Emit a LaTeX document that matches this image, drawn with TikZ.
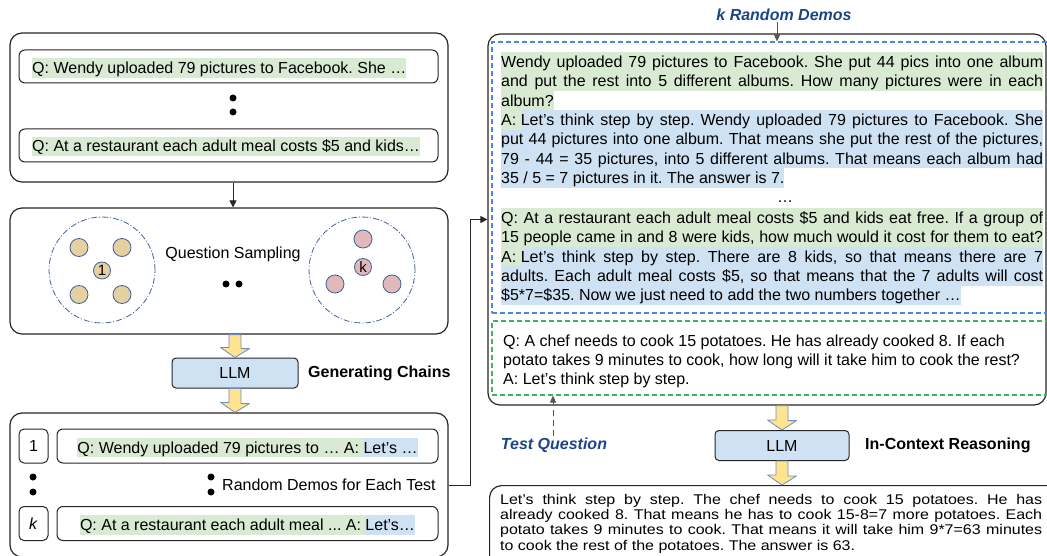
\documentclass[tikz,border=0pt]{standalone}
\usepackage{fontspec}
\setmainfont{Liberation Sans}
\usetikzlibrary{arrows.meta}
\definecolor{qgreen}{HTML}{D9EAD3}
\definecolor{ablue}{HTML}{CFE2F3}
\definecolor{ringblue}{HTML}{41619E}
\definecolor{seedtan}{HTML}{E4D19F}
\definecolor{seedpink}{HTML}{E2B9B9}
\definecolor{arrowyellow}{HTML}{FFE38F}
\definecolor{arrowedge}{HTML}{6C8EBF}
\definecolor{demoblue}{HTML}{4A86E8}
\definecolor{testgreen}{HTML}{3DB35F}
\definecolor{tagblue}{HTML}{1C4587}
\definecolor{arrowgray}{HTML}{555555}
\setlength{\fboxsep}{0pt}
\frenchspacing
\newcommand{\hl}{\rule[-4.1pt]{0pt}{19.3pt}}
\newcommand{\jl}[1]{\hbox to 542pt{\spaceskip=4.45pt plus 6pt minus 1.5pt\relax #1}}
\begin{document}
\begin{tikzpicture}[x=1pt,y=-1pt,font=\fontsize{16}{19.3}\selectfont,
	panel/.style={draw=black!85,line width=1.2pt,rounded corners=12pt},
	qbox/.style={draw=black!85,line width=1pt,rounded corners=6pt},
	tline/.style={anchor=base west,inner sep=0pt,text height=15.2pt,text depth=4.1pt},
	qline/.style={tline,fill=qgreen},
	aline/.style={tline,fill=ablue},
	pool/.style={circle,draw=ringblue,line width=0.8pt,dash pattern=on 6pt off 2pt on 1pt off 2pt,minimum size=106pt,inner sep=0pt},
	seed/.style={circle,draw=ringblue,line width=0.8pt,fill=seedtan,minimum size=18pt,inner sep=0pt},
	pick/.style={seed,fill=seedpink},
	dot/.style={circle,fill=black,inner sep=0pt,minimum size=7pt},
	llm/.style={draw=black!85,line width=1pt,fill=ablue,rounded corners=4pt,minimum width=126pt,minimum height=30pt},
	yarr/.style={draw=arrowedge,line width=0.8pt,fill=arrowyellow,line join=round},
	tag/.style={font=\fontsize{16}{19.3}\selectfont\bfseries\itshape,text=tagblue,inner sep=1pt},
	stage/.style={font=\fontsize{16}{19.3}\selectfont\bfseries,anchor=west,inner sep=0pt},
	blacka/.style={draw=black!85,line width=1pt,-{Triangle[length=7pt,width=7pt]}},
	graya/.style={draw=arrowgray,line width=1pt,-{Triangle[length=7pt,width=6pt]}}]
	\useasboundingbox (0,0) rectangle (1047,556);

	\node[panel,minimum width=438pt,minimum height=149pt] (qtop) at (229,107.5) {};
	\node[qbox,minimum width=419pt,minimum height=33pt] (q1) at (228.5,66.5) {};
	\node[qline] (q1t) at (32,73.5) {Q: Wendy uploaded 79 pictures to Facebook. She …};
	\node[dot] (qd1) at (233,98) {};
	\node[dot] (qd2) at (233,112) {};
	\node[qbox,minimum width=419pt,minimum height=33pt] (q2) at (228.5,145.5) {};
	\node[qline] (q2t) at (32,152) {Q: At a restaurant each adult meal costs \$5 and kids…};

	\node[panel,minimum width=438pt,minimum height=126pt] (sampling) at (229,271) {};
	\node[pool] (pool1) at (102,270) {};
	\node[seed] (s1) at (79,247.5) {};
	\node[seed] (s2) at (122,247.5) {};
	\node[seed] (s3) at (79,294.5) {};
	\node[seed] (s4) at (122,294.5) {};
	\node[seed,minimum size=17pt] (c1) at (102,270.5) {\fontsize{15}{15}\selectfont 1};
	\node (qs) at (233,254) {Question Sampling};
	\node[dot] (sd1) at (226,284) {};
	\node[dot] (sd2) at (239,284) {};
	\node[pool] (poolk) at (362,270) {};
	\node[pick] (p1) at (363,239) {};
	\node[pick] (p2) at (335,284) {};
	\node[pick] (p3) at (392,284) {};
	\node[pick,minimum size=17pt] (ck) at (363,267) {\fontsize{15}{15}\selectfont k};
	\draw[blacka] ([xshift=4]qtop.south) -- ([xshift=4]sampling.north);

	\node[llm] (llm1) at (235,373) {LLM};
	\node[stage] (gc) at (308,373) {Generating Chains};

	\node[panel,minimum width=438pt,minimum height=144pt] (picked) at (229,485) {};
	\node[qbox,minimum width=29pt,minimum height=34pt,rounded corners=5pt] (n1) at (33.5,446) {1};
	\node[qbox,minimum width=381pt,minimum height=34pt] (t1) at (247.5,446) {};
	\node[anchor=base,inner sep=0pt] (t1t) at (247.5,453) {\colorbox{qgreen}{\hl Q: Wendy uploaded 79 pictures to … A:\ }\colorbox{ablue}{\hl Let’s …}};
	\node[dot] (pd1) at (33,477) {};
	\node[dot] (pd2) at (33,492) {};
	\node[dot] (pd3) at (211,477) {};
	\node[dot] (pd4) at (211,492) {};
	\node[anchor=west,inner sep=0pt] (rd) at (222,485) {Random Demos for Each Test};
	\node[qbox,minimum width=29pt,minimum height=34pt,rounded corners=5pt] (nk) at (33.5,523.5) {\textit{k}};
	\node[qbox,minimum width=381pt,minimum height=34pt] (tk) at (247.5,523.5) {};
	\node[anchor=base,inner sep=0pt] (tkt) at (247.5,530.5) {\colorbox{qgreen}{\hl Q: At a restaurant each adult meal ... A:\ }\colorbox{ablue}{\hl Let’s…}};

	\coordinate (ya1) at (llm1.north |- sampling.south);
	\draw[yarr] ([xshift=-6]ya1) -- ++(12,0) -- ++(0,14) -- ++(8.5,0) -- (llm1.north) -- ++(-14.5,-10) -- ++(8.5,0) -- cycle;
	\coordinate (ya2) at (llm1.south |- picked.north);
	\draw[yarr] ([xshift=-6]llm1.south) -- ++(12,0) -- ++(0,15) -- ++(8.5,0) -- (ya2) -- ++(-14.5,-10) -- ++(8.5,0) -- cycle;

	\node[panel,minimum width=558pt,minimum height=371pt] (prompt) at (767,219.5) {};
	\draw[blacka] (picked.east) -- ++(22,0) |- (prompt.west);
	\node[draw=demoblue,line width=1.1pt,dash pattern=on 5pt off 3pt,minimum width=578pt,minimum height=271pt] (demos) at (781,177.5) {};
	\node[draw=testgreen,line width=1.1pt,dash pattern=on 5pt off 3pt,minimum width=578pt,minimum height=74pt] (test) at (781,358) {};

	\node[qline] (l1) at (501,67.5) {\jl{Wendy uploaded 79 pictures to Facebook. She put 44 pics into one album}};
	\node[qline] (l2) at (501,86.8) {\jl{and put the rest into 5 different albums. How many pictures were in each}};
	\node[qline] (l3) at (501,106.2) {album?};
	\node[aline] (l4) at (501,125.5) {\jl{\colorbox{qgreen}{\hl A:\ }Let’s think step by step. Wendy uploaded 79 pictures to Facebook. She}};
	\node[aline] (l5) at (501,144.8) {\jl{put 44 pictures into one album. That means she put the rest of the pictures,}};
	\node[aline] (l6) at (501,164.2) {\jl{79 - 44 = 35 pictures, into 5 different albums. That means each album had}};
	\node[aline] (l7) at (501,183.5) {35 / 5 = 7 pictures in it. The answer is 7.};
	\node[anchor=base,inner sep=0pt] (gap) at (785,202.8) {…};
	\node[qline] (l8) at (501,223.5) {\jl{Q: At a restaurant each adult meal costs \$5 and kids eat free. If a group of}};
	\node[qline] (l9) at (501,242.8) {\jl{15 people came in and 8 were kids, how much would it cost for them to eat?}};
	\node[aline] (l10) at (501,262.1) {\jl{\colorbox{qgreen}{\hl A:\ }Let’s think step by step. There are 8 kids, so that means there are 7}};
	\node[aline] (l11) at (501,281.5) {\jl{adults. Each adult meal costs \$5, so that means that the 7 adults will cost}};
	\node[aline] (l12) at (501,300.8) {\$5*7=\$35. Now we just need to add the two numbers together …};

	\node[tline] (x1) at (503,346.5) {Q: A chef needs to cook 15 potatoes. He has already cooked 8. If each};
	\node[tline] (x2) at (503,365.5) {potato takes 9 minutes to cook, how long will it take him to cook the rest?};
	\node[tline] (x3) at (503,384.5) {A: Let’s think step by step.};

	\node[tag] (krd) at (784,15) {k Random Demos};
	\draw[graya] ([xshift=-7]krd.south) -- ([xshift=-4]demos.north);
	\node[tag] (tq) at (554,445) {Test Question};
	\draw[graya,dash pattern=on 6pt off 4pt] ([xshift=-1]tq.north) -- ([xshift=-1]tq.north |- test.south);

	\node[llm,minimum width=134pt] (llm2) at (782,445.5) {LLM};
	\node[stage] (icr) at (865,445) {In-Context Reasoning};
	\node[panel,minimum width=590pt,minimum height=100pt,anchor=north west] (answer) at (489,485) {};
	\node[anchor=base west,inner sep=0pt] (anst) at (500,504) {\scalebox{1}[0.88]{\parbox[t]{542pt}{\fontsize{16}{17.6}\selectfont\spaceskip=4.45pt plus 8pt minus 1.5pt\relax Let’s think step by step. The chef needs to cook 15 potatoes. He has\linebreak already cooked 8. That means he has to cook 15-8=7 more potatoes. Each\linebreak potato takes 9 minutes to cook. That means it will take him 9*7=63 minutes\linebreak to cook the rest of the potatoes. The answer is 63.}}};

	\coordinate (ya3) at (llm2.north |- prompt.south);
	\draw[yarr] ([xshift=-6]ya3) -- ++(12,0) -- ++(0,15) -- ++(8.5,0) -- (llm2.north) -- ++(-14.5,-10) -- ++(8.5,0) -- cycle;
	\coordinate (ya4) at (llm2.south |- answer.north);
	\draw[yarr] ([xshift=-6]llm2.south) -- ++(12,0) -- ++(0,15) -- ++(8.5,0) -- (ya4) -- ++(-14.5,-10) -- ++(8.5,0) -- cycle;
\end{tikzpicture}
\end{document}
